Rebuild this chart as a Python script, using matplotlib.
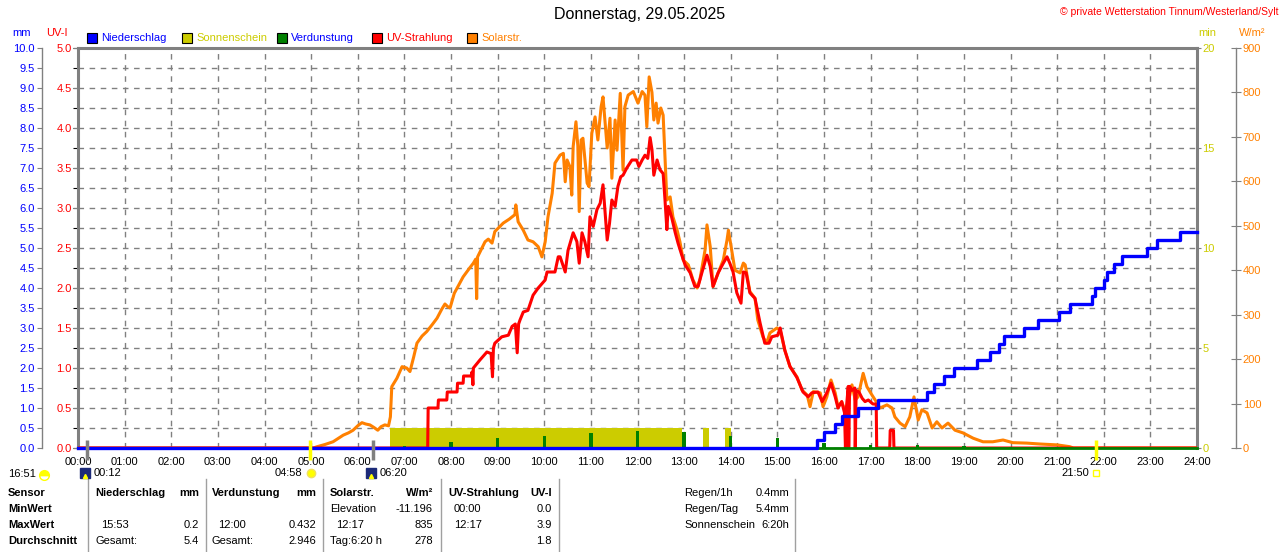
import numpy as np
import matplotlib
matplotlib.use("Agg")
import matplotlib.pyplot as plt
import matplotlib.transforms as mtransforms
from matplotlib.lines import Line2D
from matplotlib.patches import Rectangle

plt.rcParams["font.family"] = ["Liberation Sans", "DejaVu Sans"]
plt.rcParams["font.size"] = 8

W_PX, H_PX = 1280, 552

BLUE = "#0000FF"
RED = "#FF0000"
ORANGE = "#FF8000"
OLIVE = "#CCCC00"
GREEN = "#008000"
GRAY = "#808080"

# --- data ---
HOURS = list(range(25))
HOUR_LABELS = [f"{h:02d}:00" for h in HOURS]

SOLAR_T = [0.0, 5.05, 5.13, 5.30, 5.47, 5.69, 5.80, 5.90, 6.00, 6.09, 6.17, 6.26, 6.35, 6.43, 6.50,
           6.58, 6.66, 6.70, 6.73, 6.84, 6.95, 7.05, 7.12, 7.20, 7.27, 7.38, 7.48, 7.60, 7.70, 7.80,
           7.87, 7.93, 7.98, 8.07, 8.26, 8.40, 8.48, 8.53, 8.55, 8.57, 8.73, 8.80, 8.88, 8.94, 9.12,
           9.25, 9.31, 9.37, 9.39, 9.44, 9.55, 9.65, 9.76, 9.87, 9.95, 10.02, 10.08, 10.17, 10.23,
           10.34, 10.41, 10.45, 10.49, 10.55, 10.59, 10.62, 10.68, 10.72, 10.75, 10.79, 10.83, 10.92,
           10.96, 11.02, 11.09, 11.15, 11.22, 11.26, 11.35, 11.41, 11.45, 11.52, 11.56, 11.63, 11.69,
           11.73, 11.80, 11.91, 12.01, 12.10, 12.16, 12.20, 12.25, 12.31, 12.35, 12.40, 12.44, 12.50,
           12.55, 12.59, 12.63, 12.70, 12.76, 12.85, 12.91, 12.98, 13.09, 13.19, 13.28, 13.34, 13.45,
           13.49, 13.56, 13.62, 13.73, 13.84, 13.92, 13.95, 14.03, 14.09, 14.20, 14.27, 14.31, 14.41,
           14.52, 14.58, 14.69, 14.77, 14.84, 14.99, 15.06, 15.16, 15.27, 15.42, 15.53, 15.64, 15.70,
           15.77, 15.92, 15.98, 16.06, 16.15, 16.24, 16.30, 16.38, 16.47, 16.60, 16.67, 16.73, 16.84,
           16.92, 17.03, 17.14, 17.20, 17.35, 17.46, 17.52, 17.63, 17.74, 17.84, 17.93, 18.02, 18.10,
           18.21, 18.32, 18.42, 18.53, 18.66, 18.81, 18.98, 19.20, 19.41, 19.62, 19.84, 20.05, 20.35,
           20.63, 21.00, 21.27, 21.35, 24.0]
SOLAR_W = [0, 0, 3, 8, 14, 29, 34, 40, 50, 57, 54, 52, 46, 40, 48,
           52, 50, 70, 138, 157, 183, 180, 172, 205, 236, 252, 262, 278, 292, 312,
           324, 318, 315, 348, 385, 405, 416, 425, 336, 430, 464, 470, 461, 487, 506,
           515, 520, 525, 547, 509, 490, 468, 464, 453, 430, 464, 520, 573, 641,
           659, 663, 599, 648, 633, 569, 678, 734, 680, 532, 693, 697, 596,
           588, 708, 745, 693, 768, 790, 675, 742, 607, 738, 670, 798, 625,
           768, 794, 802, 776, 802, 794, 723, 835, 800, 738, 776, 731, 765,
           749, 655, 558, 565, 520, 490, 464, 423, 412, 378, 360, 380, 446,
           502, 453, 363, 394, 423, 468, 490, 439, 400, 394, 416, 412, 352,
           337, 288, 250, 236, 259, 270, 265, 220, 183, 160, 130, 119, 93,
           127, 124, 93, 115, 153, 124, 93, 104, 79, 142, 108, 115, 168,
           138, 119, 101, 90, 97, 90, 70, 56, 48, 70, 115, 63, 86,
           79, 45, 59, 45, 56, 40, 34, 22, 14, 14, 18, 12, 11,
           9, 7, 3, 0, 0]

UV_T = [0.0, 7.50, 7.51, 7.72, 7.73, 7.91, 7.92, 8.13, 8.14, 8.26, 8.27, 8.43, 8.45, 8.47, 8.48,
        8.62, 8.77, 8.86, 8.89, 8.91, 8.94, 9.09, 9.23, 9.31, 9.38, 9.42, 9.45, 9.48, 9.55, 9.65,
        9.76, 9.87, 10.02, 10.06, 10.23, 10.30, 10.34, 10.45, 10.51, 10.62, 10.70, 10.75, 10.81,
        10.87, 10.94, 10.98, 11.05, 11.13, 11.20, 11.26, 11.35, 11.40, 11.45, 11.52, 11.58, 11.64,
        11.69, 11.77, 11.88, 11.98, 12.03, 12.10, 12.16, 12.22, 12.27, 12.31, 12.35, 12.42, 12.48,
        12.55, 12.59, 12.63, 12.66, 12.73, 12.81, 12.87, 12.95, 13.02, 13.13, 13.23, 13.30, 13.38,
        13.49, 13.56, 13.62, 13.73, 13.84, 13.92, 13.98, 14.05, 14.13, 14.22, 14.27, 14.33, 14.41,
        14.52, 14.63, 14.73, 14.82, 14.88, 15.01, 15.06, 15.16, 15.27, 15.42, 15.55, 15.66, 15.74,
        15.87, 15.96, 16.06, 16.15, 16.24, 16.30, 16.38, 16.44, 16.46, 16.48, 16.52, 16.53, 16.55,
        16.60, 16.66, 16.67, 16.69, 16.75, 16.82, 16.88, 16.95, 17.05, 17.12, 17.13,
        17.41, 17.42, 17.49, 17.50, 24.0]
UV_I = [0, 0, 0.5, 0.5, 0.6, 0.6, 0.7, 0.7, 0.81, 0.81, 0.9, 0.9, 0.95, 0.79, 1.0,
        1.1, 1.2, 1.18, 0.89, 1.25, 1.31, 1.39, 1.41, 1.52, 1.55, 1.19, 1.55, 1.6, 1.70, 1.72,
        1.91, 2.0, 2.1, 2.2, 2.2, 2.39, 2.39, 2.2, 2.47, 2.69, 2.58, 2.31, 2.69,
        2.58, 2.39, 2.89, 2.77, 2.98, 3.06, 3.29, 2.6, 2.81, 3.1, 3.02, 3.27, 3.39,
        3.41, 3.5, 3.6, 3.6, 3.52, 3.6, 3.66, 3.62, 3.88, 3.73, 3.41, 3.6, 3.48,
        3.43, 3.1, 2.73, 3.02, 2.89, 2.69, 2.56, 2.41, 2.29, 2.19, 2.02, 2.02, 2.19,
        2.41, 2.27, 2.02, 2.19, 2.31, 2.39, 2.31, 2.2, 1.94, 1.81, 2.2, 2.19, 1.94,
        1.87, 1.56, 1.31, 1.31, 1.39, 1.41, 1.5, 1.22, 1.02, 0.88, 0.7, 0.64, 0.69,
        0.7, 0.58, 0.69, 0.81, 0.64, 0.5, 0.58, 0.44, 0, 0.5, 0.77, 0, 0.77,
        0.72, 0.75, 0, 0.72, 0.7, 0.62, 0.58, 0.6, 0.55, 0.55, 0,
        0, 0.22, 0.22, 0, 0]

RAIN_T = [0.0, 15.86, 16.01, 16.24, 16.39, 16.72, 17.15, 18.20, 18.35, 18.58, 18.78, 19.29,
          19.55, 19.76, 19.85, 20.30, 20.60, 21.05, 21.28, 21.74, 21.82, 22.00, 22.08, 22.23,
          22.40, 22.92, 23.15, 23.63, 24.0]
RAIN_MM = [0.0, 0.2, 0.4, 0.6, 0.8, 1.0, 1.2, 1.4, 1.6, 1.8, 2.0, 2.2,
           2.4, 2.6, 2.8, 3.0, 3.2, 3.4, 3.6, 3.8, 4.0, 4.2, 4.4, 4.6,
           4.8, 5.0, 5.2, 5.4, 5.4]

EVAP_H = list(range(1, 23))
EVAP_MM = [0.01, 0.01, 0.01, 0.01, 0.01, 0.02, 0.05, 0.15, 0.25, 0.30, 0.37,
           0.43, 0.40, 0.30, 0.25, 0.13, 0.08, 0.08, 0.05, 0.02, 0.02, 0.02]

SUN_START = [6.70, 13.41, 13.88]
SUN_END = [12.95, 13.54, 14.00]

# moon / sun events below the time axis
EVENT_T = [0.2, 4.967, 6.333, 21.833]
EVENT_LABEL = ["00:12", "04:58", "06:20", "21:50"]
EVENT_KIND = ["moon", "sunrise", "moon", "sunset"]
DAY_LENGTH = "16:51"

TITLE = "Donnerstag, 29.05.2025"
COPYRIGHT = "\u00a9 private Wetterstation Tinnum/Westerland/Sylt"

LEGEND_NAMES = ["Niederschlag", "Sonnenschein", "Verdunstung", "UV-Strahlung", "Solarstr."]
LEGEND_BOX = [BLUE, OLIVE, GREEN, RED, ORANGE]
LEGEND_TEXT = [BLUE, OLIVE, BLUE, RED, ORANGE]

ROW_NAMES = ["Sensor", "MinWert", "MaxWert", "Durchschnitt"]
COL_HEAD = [("Niederschlag", "mm"), ("Verdunstung", "mm"), ("Solarstr.", "W/m\u00b2"), ("UV-Strahlung", "UV-I")]
COL_LEFT = [["", "15:53", "Gesamt:"], ["", "12:00", "Gesamt:"],
            ["Elevation", "12:17", "Tag:6:20 h"], ["00:00", "12:17", ""]]
COL_RIGHT = [["", "0.2", "5.4"], ["", "0.432", "2.946"],
             ["-11.196", "835", "278"], ["0.0", "3.9", "1.8"]]
EXTRA_NAMES = ["Regen/1h", "Regen/Tag", "Sonnenschein"]
EXTRA_VALUES = ["0.4mm", "5.4mm", "6:20h"]


def fx(x):
    return x / W_PX


def fy(y):
    return 1 - y / H_PX


fig = plt.figure(figsize=(12.8, 5.52), dpi=100)
rect = [fx(78), fy(448), (1197 - 78) / W_PX, 400 / H_PX]
ax = fig.add_axes(rect)
ax.set_xlim(0, 24)
ax.set_ylim(0, 10)
ax.set_xticks(HOURS)
ax.set_xticklabels(HOUR_LABELS)
ax.set_yticks(np.arange(0, 10.01, 0.5))
ax.tick_params(axis="y", left=False, labelleft=False)
ax.tick_params(axis="x", length=0, pad=6.5, labelsize=8)
ax.grid(True, color=GRAY, ls=(0, (4, 4)), lw=1)
for side in ["left", "right", "top"]:
    ax.spines[side].set(color=GRAY, lw=2.2)
ax.spines["bottom"].set(color=GRAY, lw=1)


def twin(z):
    t = ax.twinx()
    t.set_zorder(z)
    t.patch.set_visible(False)
    t.set_xlim(0, 24)
    for s in t.spines.values():
        s.set_visible(False)
    return t


# sunshine minutes
ax_min = twin(1)
ax_min.set_ylim(0, 20)
ax_min.set_yticks([0, 5, 10, 15, 20])
ax_min.tick_params(axis="y", colors=GRAY, labelcolor=OLIVE, length=3, pad=1, labelsize=8)
widths = [e - s for s, e in zip(SUN_START, SUN_END)]
ax_min.bar(SUN_START, [1] * len(SUN_START), width=widths, align="edge", color=OLIVE, linewidth=0)

# solar radiation
ax_w = twin(2)
ax_w.set_ylim(0, 900)
ax_w.set_yticks(np.arange(0, 901, 100))
ax_w.spines["right"].set_visible(True)
ax_w.spines["right"].set_position(("outward", 28))
ax_w.spines["right"].set(color=GRAY, lw=1)
ax_w.tick_params(axis="y", colors=GRAY, labelcolor=ORANGE, direction="inout", length=7, pad=1.5, labelsize=8)
ax_w.plot(SOLAR_T, SOLAR_W, color=ORANGE, lw=2.2)

# UV index
ax_uv = twin(3)
ax_uv.set_ylim(0, 5)
ax_uv.set_yticks(np.arange(0, 5.01, 0.5))
ax_uv.yaxis.set_major_formatter("{x:.1f}")
ax_uv.tick_params(axis="y", left=True, labelleft=True, right=False, labelright=False,
                  colors=GRAY, labelcolor=RED, length=3.6, pad=1, labelsize=8)
ax_uv.plot(UV_T, UV_I, color=RED, lw=2.2)

# precipitation + evaporation (mm)
ax_mm = twin(4)
ax_mm.set_ylim(0, 10)
ax_mm.set_yticks(np.arange(0, 10.01, 0.5))
ax_mm.yaxis.set_major_formatter("{x:.1f}")
ax_mm.spines["left"].set_visible(True)
ax_mm.spines["left"].set_position(("outward", 26))
ax_mm.spines["left"].set(color=GRAY, lw=1)
ax_mm.tick_params(axis="y", left=True, labelleft=True, right=False, labelright=False,
                  colors=GRAY, labelcolor=BLUE, length=3.6, pad=1.5, labelsize=8)
ax_mm.axhline(0, color=GREEN, lw=2, clip_on=False)
ax_mm.bar(EVAP_H, EVAP_MM, width=0.07, color=GREEN, linewidth=0)
ax_mm.step(RAIN_T, RAIN_MM, where="post", color=BLUE, lw=2.4, clip_on=False)

# events under the axis
trans = mtransforms.blended_transform_factory(ax_mm.transData, ax_mm.transAxes)
for t, lab, kind in zip(EVENT_T, EVENT_LABEL, EVENT_KIND):
    tick_col = GRAY if kind == "moon" else "#FFFF00"
    ax_mm.vlines(t, -0.03, 0.02, colors=tick_col, lw=2.5, transform=trans, clip_on=False)
    if kind == "moon":
        icon_tr = mtransforms.offset_copy(trans, fig, x=-2, units="dots")
        ax_mm.plot([t], [-0.0625], marker="s", ms=6.5, color="#1C2A78", transform=icon_tr, clip_on=False)
        ax_mm.plot([t], [-0.07], marker="^", ms=3, color="#FFFF00", transform=icon_tr, clip_on=False)
        txt_tr = mtransforms.offset_copy(trans, fig, x=6, units="dots")
        ax_mm.text(t, -0.0625, lab, transform=txt_tr, ha="left", va="center", fontsize=8)
    elif kind == "sunrise":
        icon_tr = mtransforms.offset_copy(trans, fig, x=1, units="dots")
        ax_mm.plot([t], [-0.0625], marker="o", ms=6, color="#FFFF00", mec="#F0E060",
                   transform=icon_tr, clip_on=False)
        txt_tr = mtransforms.offset_copy(trans, fig, x=-7, units="dots")
        ax_mm.text(t, -0.0625, lab, transform=txt_tr, ha="right", va="center", fontsize=8)
    else:
        ax_mm.plot([t], [-0.0625], marker="s", ms=4.5, mfc="none", mec="#FFFF00", mew=1,
                   transform=trans, clip_on=False)
        txt_tr = mtransforms.offset_copy(trans, fig, x=-7, units="dots")
        ax_mm.text(t, -0.0625, lab, transform=txt_tr, ha="right", va="center", fontsize=8)

fig.text(fx(8), fy(474), DAY_LENGTH, ha="left", va="center", fontsize=8)
fig.add_artist(Line2D([fx(44)], [fy(475)], marker="o", ms=7, color="#FFFF00", fillstyle="top",
                      markerfacecoloralt="none", mec="#FFFF00", transform=fig.transFigure))

# header
fig.text(fx(640), fy(15), TITLE, ha="center", va="center", fontsize=11.5)
fig.text(fx(1278), fy(12), COPYRIGHT, ha="right", va="center", fontsize=7.5, color=RED)
fig.text(fx(22), fy(33), "mm", ha="center", va="center", color=BLUE)
fig.text(fx(57), fy(33), "UV-I", ha="center", va="center", color=RED)
fig.text(fx(1207), fy(33), "min", ha="center", va="center", color=OLIVE)
fig.text(fx(1252), fy(33), "W/m\u00b2", ha="center", va="center", color=ORANGE)

leg_x = [87, 182, 277, 372, 467]
for x, name, bc, tc in zip(leg_x, LEGEND_NAMES, LEGEND_BOX, LEGEND_TEXT):
    fig.add_artist(Rectangle((fx(x), fy(43)), 10 / W_PX, 10 / H_PX, transform=fig.transFigure,
                             facecolor=bc, edgecolor="black", lw=0.8))
    fig.text(fx(x + 14), fy(38), name, ha="left", va="center", color=tc)

# table
row_y = [493, 509, 525, 541]
for y, name in zip(row_y, ROW_NAMES):
    fig.text(fx(8), fy(y), name, ha="left", va="center", fontweight="bold")

col_left = [95, 212, 330, 448]
col_right = [199, 316, 433, 552]
for i in range(4):
    head, unit = COL_HEAD[i]
    fig.text(fx(col_left[i]), fy(row_y[0]), head, ha="left", va="center", fontweight="bold")
    fig.text(fx(col_right[i]), fy(row_y[0]), unit, ha="right", va="center", fontweight="bold")
    for j in range(3):
        lx = col_left[i] + (6 if COL_LEFT[i][j][:1].isdigit() else 0)
        fig.text(fx(lx), fy(row_y[j + 1]), COL_LEFT[i][j], ha="left", va="center")
        fig.text(fx(col_right[i]), fy(row_y[j + 1]), COL_RIGHT[i][j], ha="right", va="center")

for j in range(3):
    fig.text(fx(684), fy(row_y[j]), EXTRA_NAMES[j], ha="left", va="center")
    fig.text(fx(789), fy(row_y[j]), EXTRA_VALUES[j], ha="right", va="center")

for x in [88, 206, 323, 441, 559, 795]:
    fig.add_artist(Line2D([fx(x), fx(x)], [fy(479), fy(552)], color="#A0A0A0", lw=1,
                          transform=fig.transFigure))

fig.savefig("out.png", dpi=100)
